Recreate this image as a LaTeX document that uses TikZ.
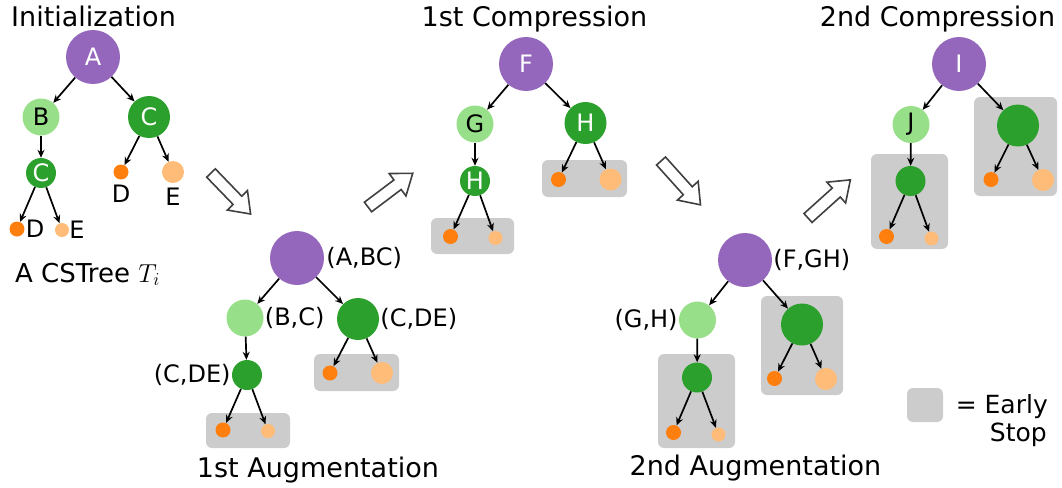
\documentclass[tikz,border=0pt]{standalone}
\usepackage{fix-cm}
\usepackage{fontspec}
\setmainfont{DejaVu Sans}
\usetikzlibrary{arrows.meta,positioning}
\definecolor{cspurple}{HTML}{9467BD}
\definecolor{cslight}{HTML}{98DF8A}
\definecolor{csgreen}{HTML}{2CA02C}
\definecolor{csorange}{HTML}{FF7F0E}
\definecolor{cspeach}{HTML}{FFBB78}
\definecolor{csstop}{HTML}{CCCCCC}
\definecolor{csarrow}{HTML}{404040}
\tikzset{
  rootnode/.style={circle,fill=cspurple,minimum size=54pt,inner sep=0pt,text=white},
  midnode/.style={circle,fill=cslight,minimum size=37pt,inner sep=0pt},
  bignode/.style={circle,fill=csgreen,minimum size=42pt,inner sep=0pt,text=white},
  smallnode/.style={circle,fill=csgreen,minimum size=30pt,inner sep=0pt,text=white},
  leafd/.style={circle,fill=csorange,minimum size=15pt,inner sep=0pt},
  leafe/.style={circle,fill=cspeach,minimum size=14pt,inner sep=0pt},
  leafE/.style={circle,fill=cspeach,minimum size=22pt,inner sep=0pt},
  link/.style={-{Stealth[length=8pt,width=7pt]},line width=1.7pt},
  stopbox/.style={fill=csstop,rounded corners=6pt},
  lbl/.style={inner sep=0pt},
  stagetitle/.style={anchor=base,inner sep=0pt,font=\fontsize{27}{32}\selectfont},
  hollow/.style={draw=csarrow,fill=white,line width=1.6pt,line join=miter}
}
\begin{document}
\begin{tikzpicture}[x=1pt,y=-1pt,font=\fontsize{24}{28}\selectfont]
  \useasboundingbox (0,0) rectangle (1062,487);

  %% Initialization
  \node[stagetitle] (t0) at (93.5,27) {Initialization};
  \node[rootnode] (iA) at (93,57) {A};
  \node[midnode] (iB) at (41,117) {\color{black}B};
  \node[bignode] (iC) at (149,117) {C};
  \node[smallnode] (iCl) at (41,173) {C};
  \node[leafd] (iDl) at (17,229) {};
  \node[leafe] (iEl) at (62,230) {};
  \node[leafd] (iDr) at (121,172) {};
  \node[leafE] (iEr) at (173,172) {};
  \node[lbl,right=1pt of iDl] (iDlt) {D};
  \node[lbl,right=0pt of iEl] (iElt) {E};
  \node[lbl,below=5pt of iDr] (iDrt) {D};
  \node[lbl,below=5pt of iEr] (iErt) {E};
  \draw[link] (iA) -- (iB);
  \draw[link] (iA) -- (iC);
  \draw[link] (iB) -- (iCl);
  \draw[link] (iCl) -- (iDl);
  \draw[link] (iCl) -- (iEl);
  \draw[link] (iC) -- (iDr);
  \draw[link] (iC) -- (iEr);
  \node[lbl,anchor=base west,font=\fontsize{26}{30}\selectfont] (cst) at (15,282) {A CSTree $T_i$};

  %% stage arrows
  \draw[hollow,shift={(211,173)},rotate=-46]
    (0,-6) -- (38,-6) -- (38,-14) -- (57,0) -- (38,14) -- (38,6) -- (0,6) -- cycle;
  \draw[hollow,shift={(368,207)},rotate=37]
    (0,-6) -- (37,-6) -- (37,-14) -- (56,0) -- (37,14) -- (37,6) -- (0,6) -- cycle;
  \draw[hollow,shift={(661,161)},rotate=-48]
    (0,-6) -- (40,-6) -- (40,-14) -- (59,0) -- (40,14) -- (40,6) -- (0,6) -- cycle;
  \draw[hollow,shift={(808,218)},rotate=42]
    (0,-6) -- (38,-6) -- (38,-14) -- (57,0) -- (38,14) -- (38,6) -- (0,6) -- cycle;

  %% 1st Augmentation
  \fill[stopbox] (206,413) rectangle (290,448);
  \fill[stopbox] (314,354) rectangle (399,391);
  \node[rootnode] (aR) at (297,258) {};
  \node[lbl,right=2pt of aR] (aRt) {(A,BC)};
  \node[midnode] (aB) at (245,318) {};
  \node[lbl,right=1pt of aB] (aBt) {(B,C)};
  \node[bignode] (aC) at (358,319) {};
  \node[lbl,right=1pt of aC] (aCt) {(C,DE)};
  \node[smallnode] (aCl) at (247,375) {};
  \node[lbl,left=1pt of aCl] (aClt) {(C,DE)};
  \node[leafd] (aDl) at (223,430) {};
  \node[leafe] (aEl) at (268,431) {};
  \node[leafd] (aDr) at (330,373) {};
  \node[leafE] (aEr) at (382,373) {};
  \draw[link] (aR) -- (aB);
  \draw[link] (aR) -- (aC);
  \draw[link] (aB) -- (aCl);
  \draw[link] (aCl) -- (aDl);
  \draw[link] (aCl) -- (aEl);
  \draw[link] (aC) -- (aDr);
  \draw[link] (aC) -- (aEr);
  \node[stagetitle] (t1) at (318,477) {1st Augmentation};

  %% 1st Compression
  \node[stagetitle] (t2) at (534.5,27) {1st Compression};
  \fill[stopbox] (431,218) rectangle (514,254);
  \fill[stopbox] (542,160) rectangle (627,197);
  \node[rootnode] (cF) at (526,64) {F};
  \node[midnode] (cG) at (475,124) {\color{black}G};
  \node[bignode] (cH) at (585.5,123) {H};
  \node[smallnode] (cHl) at (475,181) {H};
  \node[leafd] (cDl) at (450.5,236.5) {};
  \node[leafe] (cEl) at (495.5,238) {};
  \node[leafd] (cDr) at (558.5,179.5) {};
  \node[leafE] (cEr) at (610.5,179.5) {};
  \draw[link] (cF) -- (cG);
  \draw[link] (cF) -- (cH);
  \draw[link] (cG) -- (cHl);
  \draw[link] (cHl) -- (cDl);
  \draw[link] (cHl) -- (cEl);
  \draw[link] (cH) -- (cDr);
  \draw[link] (cH) -- (cEr);

  %% 2nd Augmentation
  \fill[stopbox] (658,354) rectangle (735,448);
  \fill[stopbox] (761,296) rectangle (843,395);
  \node[rootnode] (bR) at (745,260) {};
  \node[lbl,right=1pt of bR] (bRt) {(F,GH)};
  \node[midnode] (bG) at (697.5,320) {};
  \node[lbl,left=1pt of bG] (bGt) {(G,H)};
  \node[bignode] (bH) at (802,324.5) {};
  \node[smallnode] (bHl) at (697,377.5) {};
  \node[leafd] (bDl) at (673.5,432.5) {};
  \node[leafe] (bEl) at (718.5,434.5) {};
  \node[leafd] (bDr) at (774.5,378.5) {};
  \node[leafE] (bEr) at (826,379) {};
  \draw[link] (bR) -- (bG);
  \draw[link] (bR) -- (bH);
  \draw[link] (bG) -- (bHl);
  \draw[link] (bHl) -- (bDl);
  \draw[link] (bHl) -- (bEl);
  \draw[link] (bH) -- (bDr);
  \draw[link] (bH) -- (bEr);
  \node[stagetitle] (t3) at (755.5,475) {2nd Augmentation};

  %% 2nd Compression
  \node[stagetitle] (t4) at (937.5,27) {2nd Compression};
  \fill[stopbox] (871,154) rectangle (948,249);
  \fill[stopbox] (974,97) rectangle (1057,196);
  \node[rootnode] (dI) at (959,64) {I};
  \node[midnode] (dJ) at (911,124.5) {\color{black}J};
  \node[bignode] (dH) at (1018,125.5) {};
  \node[smallnode] (dHl) at (910.5,181) {};
  \node[leafd] (dDl) at (886.5,236.5) {};
  \node[leafe] (dEl) at (931.5,238.5) {};
  \node[leafd] (dDr) at (991,179.5) {};
  \node[leafE] (dEr) at (1043,180) {};
  \draw[link] (dI) -- (dJ);
  \draw[link] (dI) -- (dH);
  \draw[link] (dJ) -- (dHl);
  \draw[link] (dHl) -- (dDl);
  \draw[link] (dHl) -- (dEl);
  \draw[link] (dH) -- (dDr);
  \draw[link] (dH) -- (dEr);

  %% legend
  \fill[stopbox] (907,388) rectangle (943,422);
  \node[lbl,anchor=base east,font=\fontsize{25}{29}\selectfont] (key1) at (1048,413) {= Early};
  \node[lbl,anchor=base east,font=\fontsize{25}{29}\selectfont] (key2) at (1047,441) {Stop};
\end{tikzpicture}
\end{document}
